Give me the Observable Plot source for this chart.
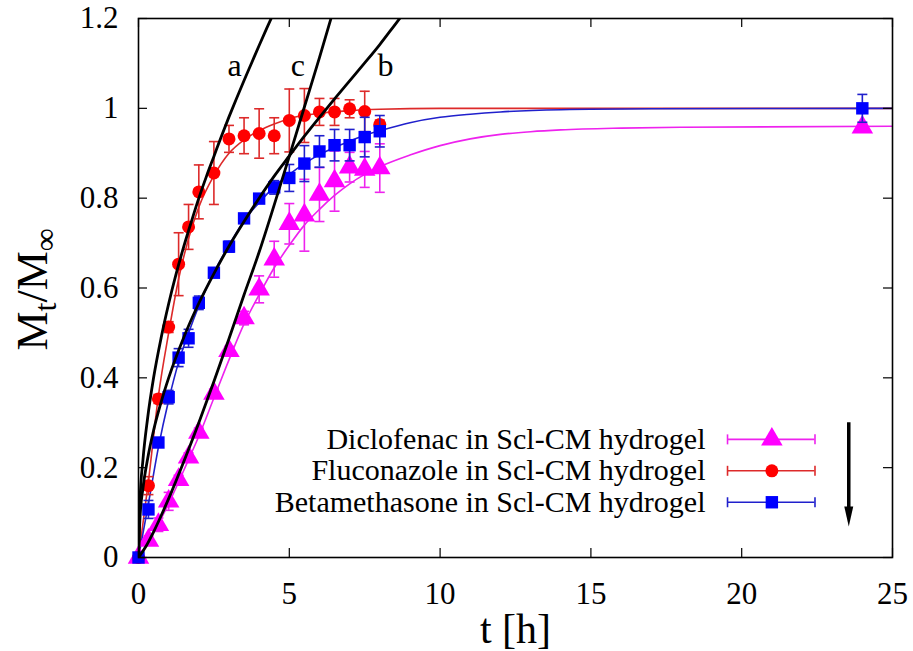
<!DOCTYPE html>
<html><head><meta charset="utf-8">
<script src="https://cdn.jsdelivr.net/npm/d3@7"></script>
<script src="https://cdn.jsdelivr.net/npm/@observablehq/plot@0.6"></script>
<style>
html,body{margin:0;padding:0;background:#fff;}
</style>
</head><body><div id="chart"></div>
<script>
// ---------- axis ticks ----------
const xTicks = [0, 5, 10, 15, 20, 25];
const xTickLabels = ["0", "5", "10", "15", "20", "25"];
const yTicks = [0, 0.2, 0.4, 0.6, 0.8, 1, 1.2];
const yTickLabels = ["0", "0.2", "0.4", "0.6", "0.8", "1", "1.2"];

// ---------- series names ----------
const seriesNames = ["Diclofenac in Scl-CM hydrogel", "Fluconazole in Scl-CM hydrogel", "Betamethasone in Scl-CM hydrogel"];

// ---------- measured data ----------
const diclofenacT = [0, 0.33, 0.66, 1, 1.33, 1.66, 2, 2.5, 3, 3.5, 4, 4.5, 5, 5.5, 6, 6.5, 7, 7.5, 8, 24];
const diclofenacV = [0, 0.038, 0.073, 0.125, 0.173, 0.223, 0.278, 0.365, 0.46, 0.533, 0.597, 0.664, 0.743, 0.762, 0.808, 0.838, 0.869, 0.864, 0.867, 0.958];
const diclofenacErr = [0, 0.01, 0.015, 0.02, 0.01, 0.01, 0.01, 0.01, 0.01, 0.015, 0.03, 0.04, 0.045, 0.08, 0.06, 0.067, 0.033, 0.04, 0.054, 0.008];

const fluconazoleT = [0, 0.33, 0.66, 1, 1.33, 1.66, 2, 2.5, 3, 3.5, 4, 4.5, 5, 5.5, 6, 6.5, 7, 7.5, 8];
const fluconazoleV = [0, 0.16, 0.353, 0.513, 0.653, 0.736, 0.814, 0.856, 0.932, 0.939, 0.944, 0.939, 0.973, 0.984, 0.992, 0.992, 0.999, 0.993, 0.964];
const fluconazoleErr = [0, 0.02, 0.01, 0.012, 0.07, 0.05, 0.06, 0.07, 0.03, 0.04, 0.055, 0.04, 0.07, 0.06, 0.03, 0.03, 0.02, 0.045, 0.01];

const betamethasoneT = [0, 0.33, 0.66, 1, 1.33, 1.66, 2, 2.5, 3, 3.5, 4, 4.5, 5, 5.5, 6, 6.5, 7, 7.5, 8, 24];
const betamethasoneV = [0, 0.107, 0.256, 0.357, 0.445, 0.488, 0.567, 0.634, 0.692, 0.755, 0.799, 0.824, 0.845, 0.877, 0.904, 0.918, 0.918, 0.936, 0.949, 1.0];
const betamethasoneErr = [0, 0.02, 0.01, 0.015, 0.02, 0.02, 0.015, 0.01, 0.012, 0.01, 0.01, 0.015, 0.03, 0.04, 0.035, 0.035, 0.035, 0.044, 0.035, 0.031];

// ---------- fitted curves ----------
const diclofenacFitT = [0, 0.33, 0.66, 1, 1.33, 1.66, 2, 2.5, 3, 3.5, 4, 4.5, 5, 5.5, 6, 6.5, 7, 7.5, 8, 9, 10, 11, 12, 13, 14, 16, 18, 25];
const diclofenacFitV = [0, 0.035, 0.075, 0.12, 0.168, 0.218, 0.27, 0.355, 0.44, 0.52, 0.585, 0.645, 0.695, 0.74, 0.775, 0.806, 0.832, 0.853, 0.87, 0.896, 0.917, 0.932, 0.942, 0.948, 0.952, 0.956, 0.958, 0.96];

const fluconazoleFitT = [0, 0.33, 0.66, 1, 1.33, 1.66, 2, 2.5, 3, 3.5, 4, 4.5, 5, 6, 7, 8, 10, 25];
const fluconazoleFitV = [0, 0.17, 0.36, 0.5, 0.62, 0.71, 0.78, 0.85, 0.9, 0.93, 0.95, 0.965, 0.977, 0.989, 0.995, 0.998, 1.0, 1.0];

const betamethasoneFitT = [0, 0.33, 0.66, 1, 1.33, 1.66, 2, 2.5, 3, 3.5, 4, 4.5, 5, 5.5, 6, 6.5, 7, 7.5, 8, 9, 10, 11, 12, 14, 17, 25];
const betamethasoneFitV = [0, 0.12, 0.245, 0.35, 0.435, 0.5, 0.56, 0.635, 0.695, 0.75, 0.79, 0.825, 0.853, 0.877, 0.897, 0.913, 0.927, 0.94, 0.95, 0.968, 0.98, 0.987, 0.992, 0.997, 0.999, 1.0];

// ---------- model curves a, b, c ----------
const curveNames = ["a", "b", "c"];
const curveAT = [0, 0.05, 0.15, 0.3, 0.5, 0.75, 1, 1.25, 1.5, 1.75, 2, 2.25, 2.5, 2.75, 3, 3.25, 3.5, 3.75, 4, 4.25, 4.5, 4.75];
const curveAV = [0, 0.126, 0.219, 0.309, 0.4, 0.489, 0.565, 0.632, 0.692, 0.747, 0.8, 0.848, 0.893, 0.938, 0.981, 1.022, 1.062, 1.101, 1.14, 1.178, 1.215, 1.252];
const curveBT = [0, 0.05, 0.15, 0.3, 0.5, 0.75, 1, 1.5, 2, 2.5, 3, 3.5, 4, 4.5, 5, 5.5, 6, 6.5, 7, 7.5, 8, 8.5, 9];
const curveBV = [0, 0.089, 0.155, 0.219, 0.283, 0.346, 0.4, 0.49, 0.566, 0.632, 0.693, 0.748, 0.8, 0.849, 0.894, 0.938, 0.98, 1.021, 1.061, 1.101, 1.142, 1.186, 1.23];
const curveCT = [0, 0.25, 0.5, 0.75, 1, 1.5, 2, 2.5, 3, 3.5, 4, 4.5, 5, 5.5, 6, 6.5];
const curveCV = [0, 0.025, 0.057, 0.093, 0.131, 0.213, 0.3, 0.392, 0.487, 0.585, 0.68, 0.785, 0.893, 1.003, 1.113, 1.227];
const curveLabelT = [3.19, 8.19, 5.28];
const curveLabelV = [1.071, 1.071, 1.071];

// ---------- annotation arrow ----------
const arrowT = [23.55];
const arrowFrom = [0.3];
const arrowTo = [0.078];

// ---------- build tables ----------
const zipPts = (T, V, E) => T.map((t, i) => ({t, v: V[i], e: E[i]}));
const zipLine = (T, V) => T.map((t, i) => ({t, v: V[i]}));

const series = [
  {name: seriesNames[0], pts: zipPts(diclofenacT, diclofenacV, diclofenacErr), fit: zipLine(diclofenacFitT, diclofenacFitV),
   mark: "#ff00ff", line: "#ee22ee", symbol: "triangle", r: 8},
  {name: seriesNames[1], pts: zipPts(fluconazoleT, fluconazoleV, fluconazoleErr), fit: zipLine(fluconazoleFitT, fluconazoleFitV),
   mark: "#ff0000", line: "#dd2a2a", symbol: "circle", r: 6.5},
  {name: seriesNames[2], pts: zipPts(betamethasoneT, betamethasoneV, betamethasoneErr), fit: zipLine(betamethasoneFitT, betamethasoneFitV),
   mark: "#0000ff", line: "#2020cc", symbol: "square", r: 7}
];
const curves = [zipLine(curveAT, curveAV), zipLine(curveBT, curveBV), zipLine(curveCT, curveCV)];
const curveLabelRows = curveNames.map((n, i) => ({n, t: curveLabelT[i], v: curveLabelV[i]}));

// custom symbols
const capSymbol = {draw(ctx, size) { const r = Math.sqrt(size / Math.PI); ctx.moveTo(-r, 0); ctx.lineTo(r, 0); }};
const vcapSymbol = {draw(ctx, size) { const r = Math.sqrt(size / Math.PI); ctx.moveTo(0, -r); ctx.lineTo(0, r); }};
const headSymbol = {draw(ctx, size) { const r = Math.sqrt(size / Math.PI); ctx.moveTo(-0.45 * r, -1.6 * r); ctx.lineTo(0.45 * r, -1.6 * r); ctx.lineTo(0, 0.4 * r); ctx.closePath(); }};

// layout
const W = 913, H = 651, mL = 138, mR = 21, mT = 18, mB = 94;
const plotW = W - mL - mR, plotH = H - mT - mB;
const tick = 9;
const legendTextT = 18.8, legendX1 = 19.53, legendX2 = 22.43, legendMarkT = 21.0;
const legendY = [0.263, 0.193, 0.123];

const marks = [];
// fit lines
series.forEach(s => marks.push(Plot.line(s.fit, {x: "t", y: "v", stroke: s.line, strokeWidth: 1.6, curve: "monotone-x", clip: true})));
// error bars, caps, markers
series.forEach(s => {
  marks.push(Plot.ruleX(s.pts.filter(d => d.e > 0), {x: "t", y1: d => d.v - d.e, y2: d => d.v + d.e, stroke: s.line, strokeWidth: 1.6}));
  const caps = s.pts.filter(d => d.e > 0).flatMap(d => [{t: d.t, v: d.v - d.e}, {t: d.t, v: d.v + d.e}]);
  marks.push(Plot.dot(caps, {x: "t", y: "v", symbol: capSymbol, r: 5, fill: "none", stroke: s.line, strokeWidth: 1.6}));
  marks.push(Plot.dot(s.pts, {x: "t", y: "v", symbol: s.symbol, r: s.r, fill: s.mark, stroke: "none"}));
});
// black model curves
curves.forEach(c => marks.push(Plot.line(c, {x: "t", y: "v", stroke: "black", strokeWidth: 2.8, curve: "monotone-x", clip: true})));
marks.push(Plot.text(curveLabelRows, {x: "t", y: "v", text: "n", fontSize: 32, lineAnchor: "bottom", fill: "black"}));

// legend
series.forEach((s, i) => {
  const row = [{y: legendY[i]}];
  marks.push(Plot.text(row, {x: () => legendTextT, y: "y", text: () => s.name, textAnchor: "end", lineAnchor: "middle", fontSize: 30, fill: "black"}));
  marks.push(Plot.ruleY(row, {y: "y", x1: () => legendX1, x2: () => legendX2, stroke: s.line, strokeWidth: 1.6}));
  marks.push(Plot.dot([{t: legendX1, y: legendY[i]}, {t: legendX2, y: legendY[i]}], {x: "t", y: "y", symbol: vcapSymbol, r: 5, fill: "none", stroke: s.line, strokeWidth: 1.6}));
  marks.push(Plot.dot(row, {x: () => legendMarkT, y: "y", symbol: s.symbol, r: s.r, fill: s.mark}));
});

// arrow
const arrowRows = arrowT.map((t, i) => ({t, y1: arrowFrom[i], y2: arrowTo[i]}));
marks.push(Plot.ruleX(arrowRows, {x: "t", y1: "y1", y2: d => d.y2 + 0.03, stroke: "black", strokeWidth: 3.5}));
marks.push(Plot.dot(arrowRows, {x: "t", y: "y2", symbol: headSymbol, r: 10, fill: "black", stroke: "none"}));

// ticks (inward, mirrored)
marks.push(Plot.tickX(xTicks, {x: d => d, insetTop: plotH - tick, stroke: "black", strokeWidth: 1.2}));
marks.push(Plot.tickX(xTicks, {x: d => d, insetBottom: plotH - tick, stroke: "black", strokeWidth: 1.2}));
marks.push(Plot.tickY(yTicks, {y: d => d, insetRight: plotW - tick, stroke: "black", strokeWidth: 1.2}));
marks.push(Plot.tickY(yTicks, {y: d => d, insetLeft: plotW - tick, stroke: "black", strokeWidth: 1.2}));
marks.push(Plot.frame({stroke: "black", strokeWidth: 1.6}));

// axes
marks.push(Plot.axisX({ticks: xTicks, tickSize: 0, tickPadding: 24, fontSize: 31, label: null,
  tickFormat: d => xTickLabels[xTicks.indexOf(d)]}));
marks.push(Plot.axisY({ticks: yTicks, tickSize: 0, tickPadding: 20, fontSize: 31, label: null,
  tickFormat: d => yTickLabels[yTicks.indexOf(d)]}));
marks.push(Plot.text(["t [h]"], {frameAnchor: "bottom", dy: 85, text: d => d, fontSize: 42, lineAnchor: "bottom", fill: "black"}));

const chart = Plot.plot({
  width: W, height: H,
  marginLeft: mL, marginRight: mR, marginTop: mT, marginBottom: mB,
  x: {domain: [0, 25]},
  y: {domain: [0, 1.2]},
  style: {fontFamily: "'Liberation Serif', 'Times New Roman', serif", fontSize: "31px", background: "white", color: "black"},
  marks
});

// y-axis title with subscripts
const svg = d3.select(chart);
const yl = svg.append("text")
  .attr("transform", `translate(47,${mT + plotH / 2 + 2}) rotate(-90)`)
  .attr("text-anchor", "middle")
  .attr("font-family", "'Liberation Serif', 'Times New Roman', serif")
  .attr("font-size", 44)
  .attr("fill", "black");
yl.append("tspan").text("M");
yl.append("tspan").attr("font-size", 32).attr("dy", 9).text("t");
yl.append("tspan").attr("dy", -9).text("/M");
yl.append("tspan").attr("font-size", 32).attr("dy", 9).text("∞");

document.getElementById("chart").appendChild(chart);
</script>
</body></html>
